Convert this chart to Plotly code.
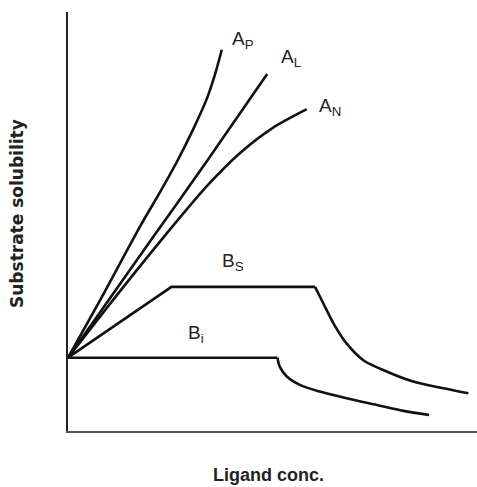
import plotly.graph_objects as go

S0 = 17.5

# A-type curves (x = ligand conc., y = substrate solubility), arbitrary units
ap_x = [0, 8.0, 17.6, 22.5, 26.6, 30.6, 33.9, 36.0, 37.6]
ap_y = [S0, 31.5, 48.8, 57.0, 64.2, 72.0, 79.2, 85.3, 91.0]

al_x = [0, 20.9, 33.9, 48.7]
al_y = [S0, 46.4, 64.3, 85.2]

an_x = [0, 12.0, 24.0, 34.0, 42.0, 50.0, 58.4]
an_y = [S0, 32.5, 47.0, 58.5, 66.3, 72.3, 76.8]

# B-type curves
bs_x = [0, 25.3, 60.4, 62.4, 64.9, 68.1, 72.2, 77.9, 84.4, 91.8, 97.9]
bs_y = [S0, 34.4, 34.4, 30.5, 25.7, 20.9, 16.9, 14.2, 11.8, 10.2, 9.0]

bi_x = [0, 51.2, 51.8, 53.5, 56.7, 61.6, 68.1, 75.5, 82.0, 88.3]
bi_y = [S0, S0, 15.3, 13.0, 11.0, 9.4, 7.8, 6.2, 4.8, 3.8]

labels = ["A<sub>P</sub>", "A<sub>L</sub>", "A<sub>N</sub>", "B<sub>S</sub>", "B<sub>i</sub>", "S<sub>0</sub>"]
label_x = [42.8, 54.5, 64.1, 40.3, 31.3, -4.4]
label_y = [93.3, 89.0, 77.3, 40.3, 23.2, 18.1]

LINE = "#111111"
fig = go.Figure()


def add_line(xs, ys, shape):
    fig.add_trace(go.Scatter(x=xs, y=ys, mode="lines",
                             line=dict(color=LINE, width=2.6, shape=shape,
                                       smoothing=0.8 if shape == "spline" else None),
                             showlegend=False, hoverinfo="skip", cliponaxis=False))


# smooth A curves
for xs, ys in [(ap_x, ap_y), (al_x, al_y), (an_x, an_y)]:
    add_line(xs, ys, "spline")

# B curves: straight segments up to the knee, then smooth decay
add_line(bs_x[:3], bs_y[:3], "linear")
add_line(bs_x[2:], bs_y[2:], "spline")
add_line(bi_x[:2], bi_y[:2], "linear")
add_line(bi_x[1:], bi_y[1:], "spline")

for t, x, y in zip(labels, label_x, label_y):
    fig.add_annotation(x=x, y=y, xref="x", yref="y", text=t, showarrow=False,
                       xanchor="center", yanchor="middle",
                       font=dict(family="Liberation Sans, Arial", size=19, color="#222222"))

fig.add_annotation(x=-0.125, y=0.52, xref="paper", yref="paper",
                   text="<b>Substrate solubility</b>", textangle=-90, showarrow=False,
                   xanchor="center", yanchor="middle",
                   font=dict(family="DejaVu Sans", size=17, color="#222222"))
fig.add_annotation(x=0.49, y=-0.105, xref="paper", yref="paper",
                   text="<b>Ligand conc.</b>", showarrow=False,
                   xanchor="center", yanchor="middle",
                   font=dict(family="Liberation Sans, Arial", size=18, color="#222222"))

axis_common = dict(showgrid=False, zeroline=False, showticklabels=False, ticks="",
                   showline=True, linewidth=2, fixedrange=True)
fig.update_xaxes(range=[0, 100], linecolor="#555555", **axis_common)
fig.update_yaxes(range=[0, 100], linecolor="#222222", **axis_common)

fig.update_layout(width=477, height=487,
                  margin=dict(l=68, r=0, t=12, b=56),
                  plot_bgcolor="white", paper_bgcolor="white")

fig.write_html("out.html", config={"displayModeBar": False},
               post_script="document.body.style.margin='0px';")
